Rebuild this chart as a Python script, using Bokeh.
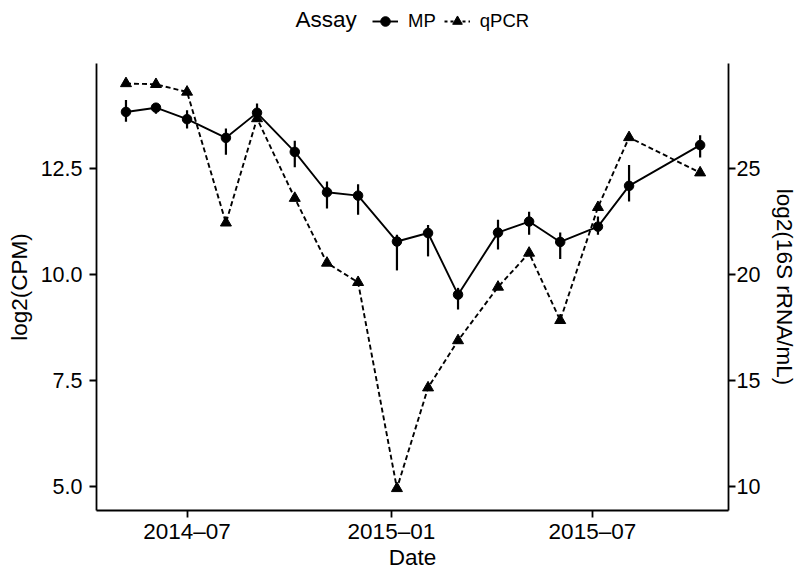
import pandas as pd
from bokeh.plotting import figure
from bokeh.layouts import column
from bokeh.models import (ColumnDataSource, Range1d, LinearAxis, FixedTicker,
                          DatetimeTickFormatter, NumeralTickFormatter, Legend,
                          LegendItem, Label)
from bokeh.embed import file_html
from bokeh.resources import INLINE

# ---- data ----
dates = ["2014-05-07", "2014-06-03", "2014-07-01", "2014-08-05", "2014-09-02",
         "2014-10-06", "2014-11-04", "2014-12-02", "2015-01-06", "2015-02-03",
         "2015-03-02", "2015-04-07", "2015-05-05", "2015-06-02", "2015-07-06",
         "2015-08-03", "2015-10-06"]
mp_mean = [13.82, 13.92, 13.65, 13.21, 13.80, 12.88, 11.93, 11.85, 10.77, 10.97,
           9.52, 10.98, 11.24, 10.76, 11.12, 12.08, 13.04]
mp_lower = [13.59, 13.78, 13.43, 12.81, 13.63, 12.52, 11.55, 11.40, 10.09, 10.42,
            9.17, 10.58, 10.93, 10.36, 10.93, 11.71, 12.75]
mp_upper = [14.10, 14.03, 13.86, 13.43, 14.02, 13.14, 12.18, 12.12, 10.93, 11.16,
            9.68, 11.28, 11.47, 10.98, 11.36, 12.57, 13.27]
qpcr = [28.98, 28.94, 28.58, 22.42, 27.33, 23.58, 20.53, 19.62, 9.92, 14.66,
        16.88, 19.40, 21.00, 17.83, 23.15, 26.44, 24.78]

x_tick_dates = ["2014-07-01", "2015-01-01", "2015-07-01"]
left_ticks = [5.0, 7.5, 10.0, 12.5]
right_ticks = [10, 15, 20, 25]
series_labels = ["MP", "qPCR"]
legend_title = "Assay"

FONT = "Liberation Sans"
LEG_H = 63
BORDER_L = 96
BORDER_R = 71

src = ColumnDataSource(dict(date=pd.to_datetime(dates), mp=mp_mean,
                            lo=mp_lower, hi=mp_upper, q=qpcr))

# ---------------- main plot ----------------
p = figure(width=800, height=572 - LEG_H, output_backend="svg", toolbar_location=None,
           title=None, x_axis_type="datetime",
           x_range=Range1d(pd.Timestamp("2014-04-10 11:00"), pd.Timestamp("2015-10-31 13:00")),
           y_range=Range1d(4.44, 14.96),
           min_border_left=BORDER_L, min_border_right=BORDER_R,
           min_border_top=0, min_border_bottom=61)
p.extra_y_ranges = {"right": Range1d(8.88, 29.92)}
p.outline_line_color = None
p.xgrid.visible = False
p.ygrid.visible = False
p.background_fill_color = "white"
p.border_fill_color = "white"

# MP series
p.segment(x0="date", y0="lo", x1="date", y1="hi", source=src,
          line_width=2.2, line_color="black")
p.line("date", "mp", source=src, line_width=1.9, line_color="black")
p.scatter("date", "mp", source=src, marker="circle", size=9.5,
          fill_color="black", line_color="black")

# qPCR series (right axis)
p.line("date", "q", source=src, y_range_name="right", line_width=1.9,
       line_dash="5 3", line_color="black")
p.scatter("date", "q", source=src, y_range_name="right", marker="triangle",
          size=11, fill_color="black", line_color="black")

# axes
xa = p.xaxis[0]
xa.ticker = FixedTicker(ticks=[pd.Timestamp(t).timestamp() * 1000 for t in x_tick_dates])
xa.formatter = DatetimeTickFormatter(days="%Y\u2013%m", months="%Y\u2013%m", years="%Y\u2013%m")
xa.axis_label = "Date"

ya = p.yaxis[0]
ya.ticker = FixedTicker(ticks=left_ticks)
ya.formatter = NumeralTickFormatter(format="0.0")
ya.axis_label = "log2(CPM)"

ra = LinearAxis(y_range_name="right", axis_label="log2(16S rRNA/mL)",
                ticker=FixedTicker(ticks=right_ticks),
                formatter=NumeralTickFormatter(format="0"))
p.add_layout(ra, "right")

for ax in (xa, ya, ra):
    ax.axis_line_color = "black"
    ax.axis_line_width = 1.8
    ax.major_tick_line_color = "black"
    ax.major_tick_line_width = 1.8
    ax.major_tick_out = 7
    ax.major_tick_in = 0
    ax.minor_tick_out = 0
    ax.minor_tick_in = 0
    ax.major_label_text_font = FONT
    ax.major_label_text_font_size = "21.5px"
    ax.major_label_text_color = "black"
    ax.axis_label_text_font = FONT
    ax.axis_label_text_font_size = "22.5px"
    ax.axis_label_text_font_style = "normal"
    ax.axis_label_text_color = "black"

xa.major_label_text_font_size = "22.5px"
xa.major_label_standoff = 1
xa.axis_label_standoff = -2
ya.major_label_standoff = 7
ya.axis_label_standoff = 6
ya.axis_label_text_line_height = 1.0
ra.major_label_standoff = 1
ra.axis_label_standoff = 9
ra.axis_label_text_line_height = 0.7

# ---------------- legend strip on top ----------------
lf = figure(width=800, height=LEG_H, output_backend="svg", toolbar_location=None,
            title=None, x_axis_location=None, y_axis_location=None,
            x_range=Range1d(0, 1), y_range=Range1d(0, 1),
            min_border=0, min_border_left=BORDER_L, min_border_right=BORDER_R,
            min_border_top=0, min_border_bottom=0)
lf.outline_line_color = None
lf.xgrid.visible = False
lf.ygrid.visible = False
lf.background_fill_color = "white"
lf.border_fill_color = "white"

# key renderers: same data, but outside this strip's ranges (only their legend keys show)
k_mp_line = lf.line("date", "mp", source=src, line_width=1.9, line_color="black")
k_mp_pt = lf.scatter("date", "mp", source=src, marker="circle", size=9.5,
                     fill_color="black", line_color="black")
k_q_line = lf.line("date", "q", source=src, line_width=1.9, line_dash="3 3",
                   line_color="black")
k_q_pt = lf.scatter("date", "q", source=src, marker="triangle", size=11,
                    fill_color="black", line_color="black")

legend = Legend(items=[LegendItem(label=series_labels[0], renderers=[k_mp_line, k_mp_pt]),
                       LegendItem(label=series_labels[1], renderers=[k_q_line, k_q_pt])],
                orientation="horizontal", location=(372 - BORDER_L, 30),
                glyph_width=26, glyph_height=24, label_standoff=10, spacing=8,
                padding=0, margin=0, background_fill_alpha=0, border_line_alpha=0,
                label_text_font=FONT, label_text_font_size="18.5px",
                label_text_color="black")
lf.add_layout(legend, "center")
lf.add_layout(Label(x=295 - BORDER_L, y=44, x_units="screen", y_units="screen",
                    text=legend_title, text_font=FONT, text_font_size="22.5px",
                    text_baseline="alphabetic", text_align="left", text_color="black"))

root = column(lf, p, spacing=0)
open("out.html", "w").write(file_html(root, INLINE))
